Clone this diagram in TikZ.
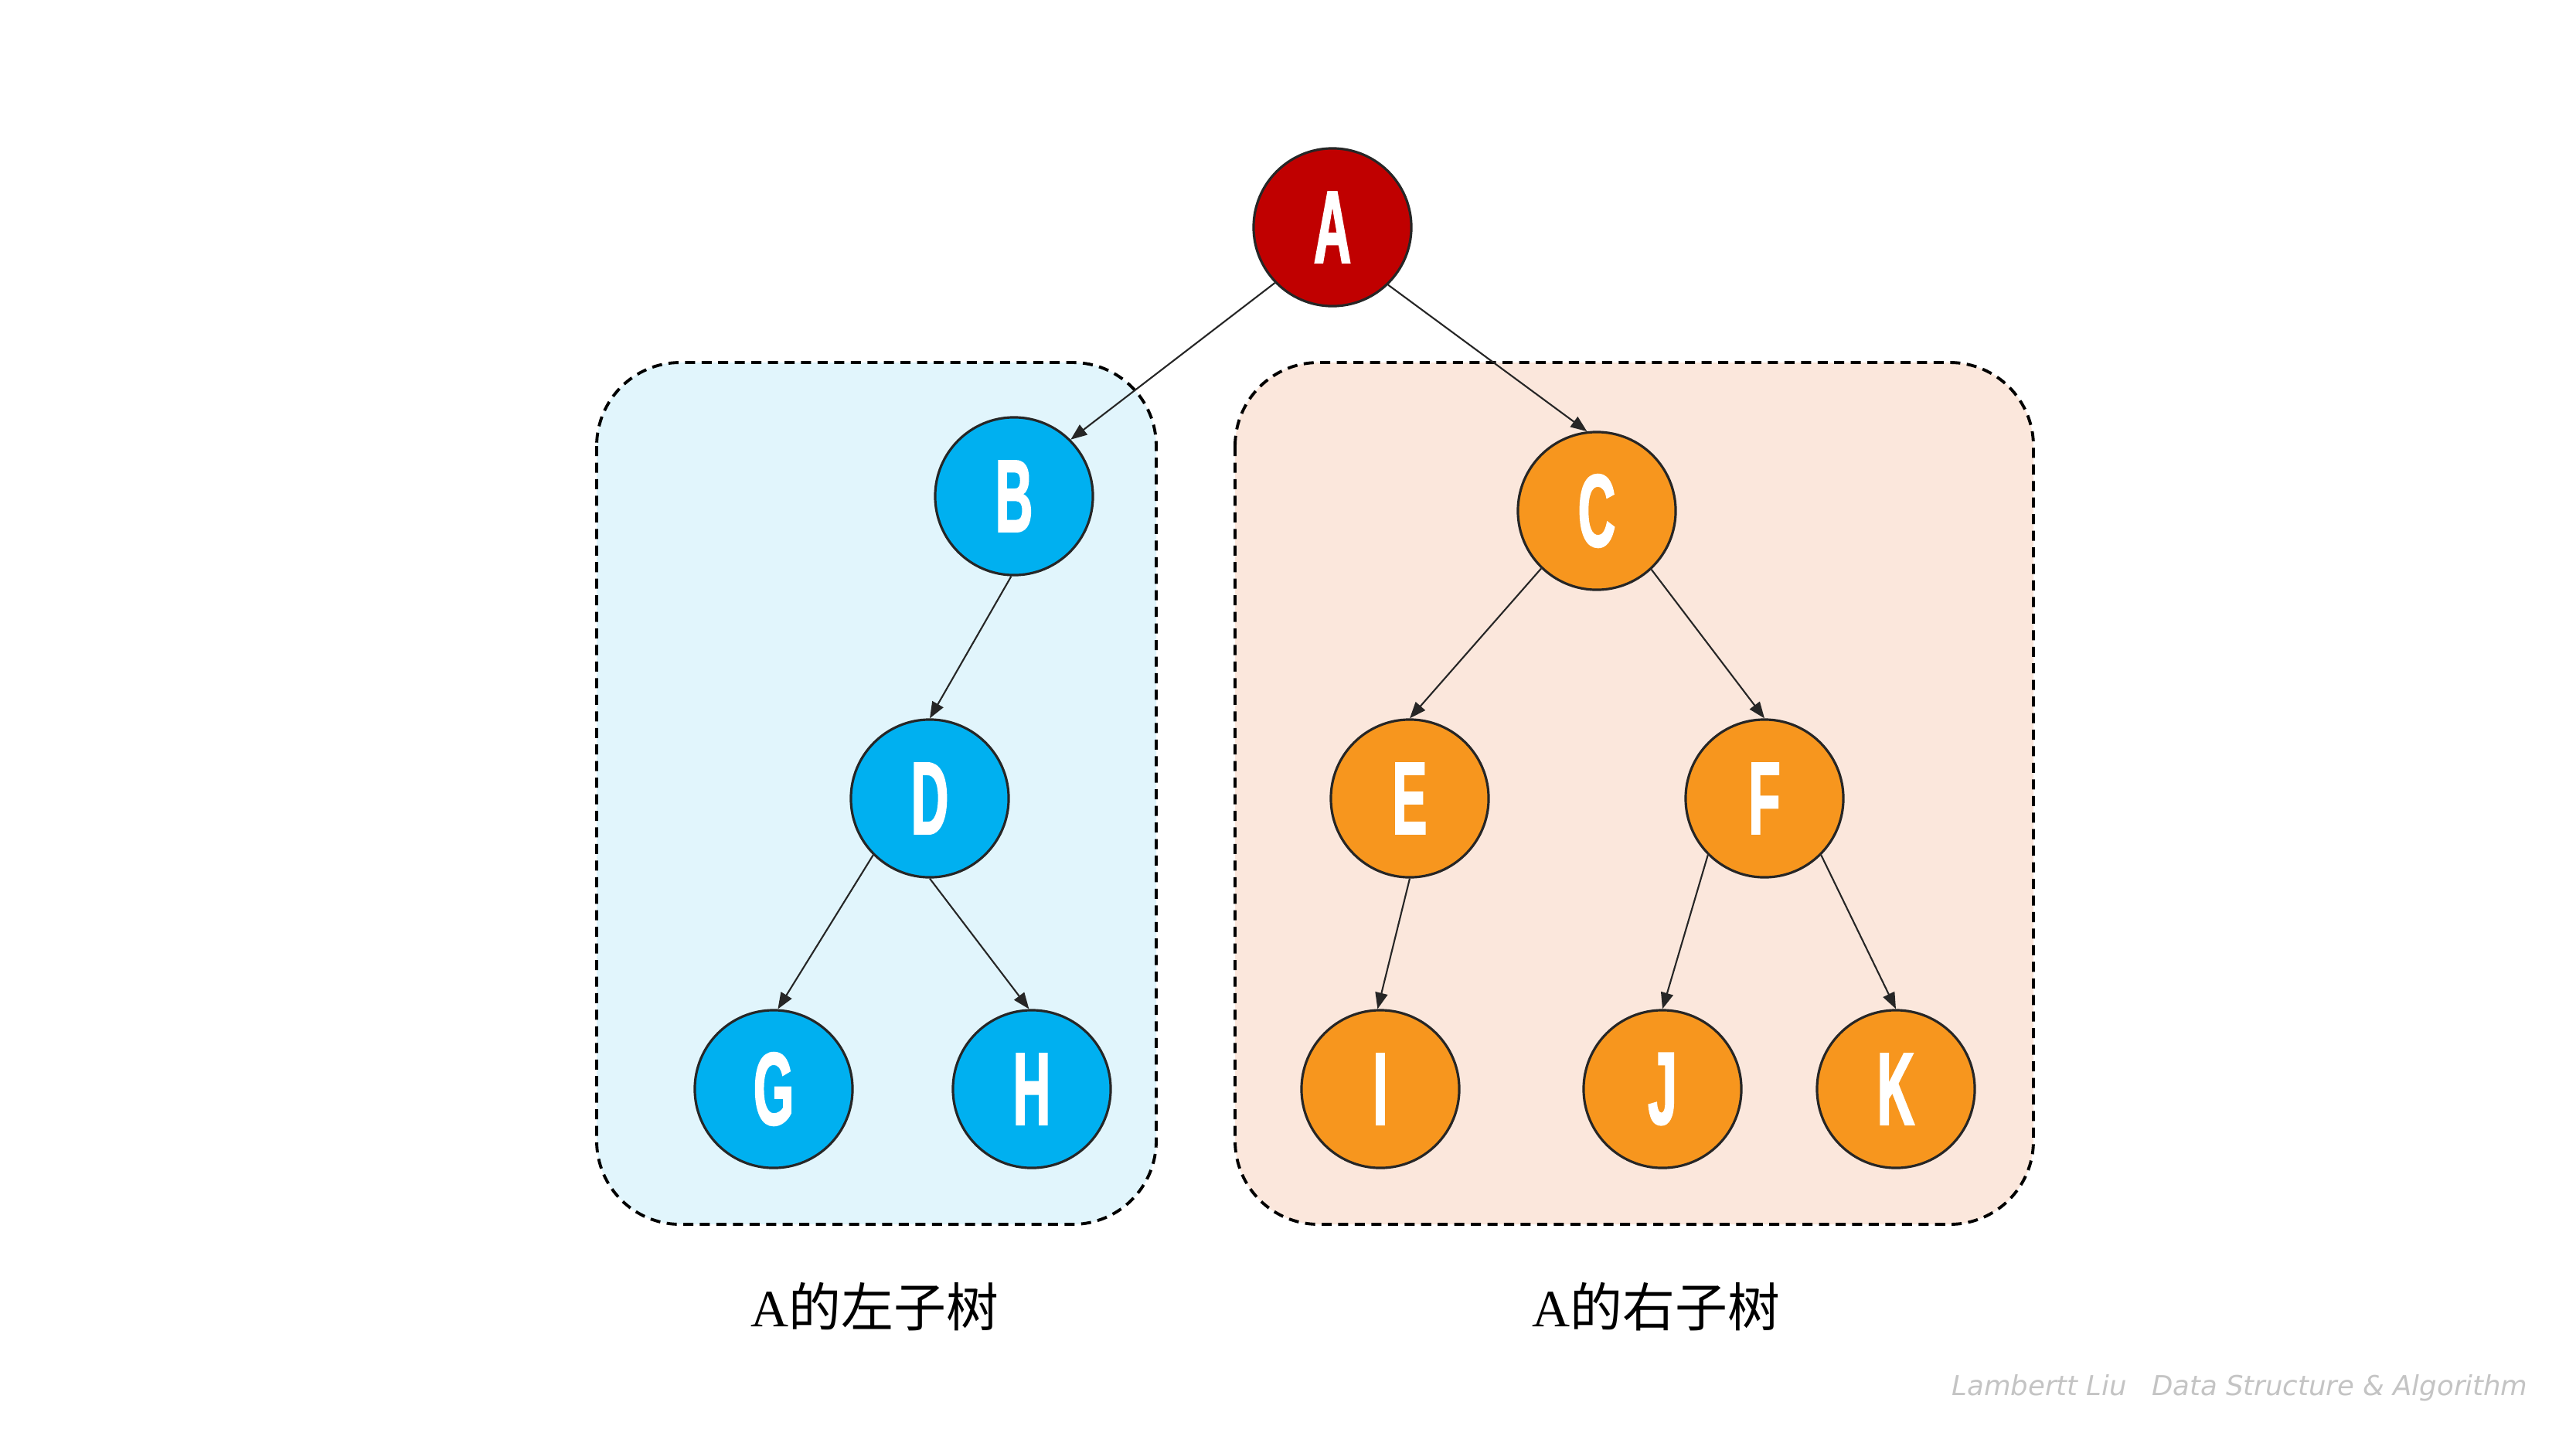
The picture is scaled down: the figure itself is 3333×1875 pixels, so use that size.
\documentclass[tikz,border=0pt]{standalone}
\usepackage{fontspec}
\usetikzlibrary{arrows.meta}
\newfontfamily\nodefont[FakeStretch=0.5,FakeBold=1.5]{Liberation Sans Bold}
\newfontfamily\cjkfont{Noto Sans CJK SC}
\newfontfamily\latinserif{Liberation Serif}
\newfontfamily\wmfont{DejaVu Sans Oblique}
\definecolor{redA}{HTML}{C00000}
\definecolor{blueN}{HTML}{00B0F0}
\definecolor{orangeN}{HTML}{F7961E}
\definecolor{boxL}{HTML}{E1F5FC}
\definecolor{boxR}{HTML}{FBE7DC}
\definecolor{edgeC}{HTML}{262626}
\definecolor{wmC}{HTML}{C4C4C4}
\tikzset{
  nd/.style={circle, draw=edgeC, line width=0.9pt, minimum size=2.04cm, inner sep=0pt,
    text=white, font=\nodefont\fontsize{38}{38}\selectfont},
  ndred/.style={nd, fill=redA},
  ndblue/.style={nd, fill=blueN},
  ndorange/.style={nd, fill=orangeN},
  grp/.style={draw=black, line width=1.1pt, dash pattern=on 3.7pt off 2.4pt, rounded corners=1.08cm},
  edge/.style={draw=edgeC, line width=0.6pt, -{Triangle[length=6pt,width=4.6pt]}},
  lbl/.style={anchor=base, inner sep=0pt, font=\fontsize{19.3}{19.3}\selectfont},
  wm/.style={anchor=base west, inner sep=0pt, text=wmC, font=\wmfont\fontsize{10.1}{10.1}\selectfont}
}
\begin{document}
\begin{tikzpicture}[x=0.01cm, y=-0.01cm]
\useasboundingbox (0,0) rectangle (3333,1875);
\fill[white] (0,0) rectangle (3333,1875);
% group boxes
\draw[grp, fill=boxL] (772,469) rectangle (1496,1584);
\draw[grp, fill=boxR] (1598,469) rectangle (2631,1584);
% nodes
\node[ndred] (A) at (1724,294) {A};
\node[ndblue] (B) at (1312,642) {B};
\node[ndorange] (C) at (2066,661) {C};
\node[ndblue] (D) at (1203,1033) {D};
\node[ndorange] (E) at (1824,1033) {E};
\node[ndorange] (F) at (2283,1033) {F};
\node[ndblue] (G) at (1001,1409) {G};
\node[ndblue] (H) at (1335,1409) {H};
\node[ndorange] (I) at (1786,1409) {I};
\node[ndorange] (J) at (2151,1409) {J};
\node[ndorange] (K) at (2453,1409) {K};
% edges
\draw[edge] (A.224) -- (B.45);
\draw[edge] (A.314) -- (C.97);
\draw[edge] (B.268) -- (D.90);
\draw[edge] (D.225) -- (G.87);
\draw[edge] (D.270) -- (H.92);
\draw[edge] (C.226) -- (E.90);
\draw[edge] (C.313) -- (F.90);
\draw[edge] (E.270) -- (I.92);
\draw[edge] (F.225) -- (J.90);
\draw[edge] (F.315) -- (K.90);
% labels
\node[lbl] (LL) at (1132,1716) {\latinserif A\cjkfont 的左子树};
\node[lbl] (LR) at (2143,1716) {\latinserif A\cjkfont 的右子树};
\node[wm] (W) at (2525,1805) {Lambertt Liu\hspace{0.9em}Data Structure \& Algorithm};
\end{tikzpicture}
\end{document}
